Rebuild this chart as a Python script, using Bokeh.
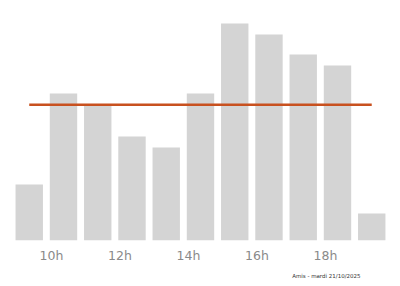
from bokeh.plotting import figure
from bokeh.models import Range1d, FixedTicker, ColumnDataSource, Title
from bokeh.transform import dodge
from bokeh.embed import file_html
from bokeh.resources import INLINE

hours = [9, 10, 11, 12, 13, 14, 15, 16, 17, 18, 19]
affluence = [56, 147, 136, 104, 93, 147, 217, 206, 186, 175, 27]
tick_hours = [10, 12, 14, 16, 18]
tick_labels = {h: f"{h}h" for h in tick_hours}
footer = "Amis - mardi 21/10/2025"

mean_val = sum(affluence) / len(affluence)
bar_shift = 0.35

p = figure(frame_width=400, frame_height=240, min_border_left=0, min_border_right=0,
           min_border_top=0, min_border_bottom=46,
           output_backend="svg", toolbar_location=None,
           x_range=Range1d(8.511, 20.19), y_range=Range1d(0, 240))

src = ColumnDataSource(dict(x=hours, top=affluence))
p.vbar(x=dodge("x", bar_shift, range=p.x_range), top="top", width=0.8, source=src,
       fill_color="#d4d4d4", line_color=None)
p.line(x=[hours[0] + bar_shift, hours[-1] + bar_shift], y=[mean_val, mean_val],
       line_color="#c8511f", line_width=2.5)

p.yaxis.visible = False
p.xgrid.visible = False
p.ygrid.visible = False
p.outline_line_color = None
p.xaxis.axis_line_color = None
p.xaxis.major_tick_line_color = None
p.xaxis.minor_tick_line_color = None
p.xaxis.major_tick_out = 0
p.xaxis.major_tick_in = 0
p.xaxis.ticker = FixedTicker(ticks=tick_hours)
p.xaxis.major_label_overrides = tick_labels
p.xaxis.major_label_text_color = "#8a8a8a"
p.xaxis.major_label_text_font = "DejaVu Sans"
p.xaxis.major_label_text_font_size = "12.5px"
p.xaxis.major_label_standoff = 7

t = Title(text=footer, align="right", offset=40, text_font_size="5.5px",
          text_font_style="normal", text_color="#333333", text_font="DejaVu Sans", standoff=10)
p.add_layout(t, "below")

open("out.html", "w").write(file_html(p, INLINE))
